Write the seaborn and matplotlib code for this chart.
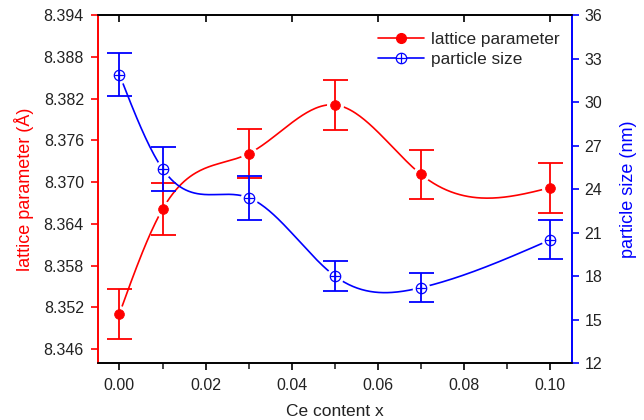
import numpy as np
import pandas as pd
import matplotlib
matplotlib.use("Agg")
import matplotlib.pyplot as plt
from matplotlib.lines import Line2D
from matplotlib.legend_handler import HandlerTuple
import seaborn as sns

# ---- data ----
ce_content = [0.00, 0.01, 0.03, 0.05, 0.07, 0.10]
lattice_param = [8.3511, 8.3661, 8.3741, 8.3811, 8.3711, 8.3692]
lattice_err = [0.0036, 0.0037, 0.0035, 0.0036, 0.0035, 0.0036]
particle_size = [31.9, 25.4, 23.4, 18.0, 17.2, 20.5]
particle_err = [1.5, 1.5, 1.5, 1.05, 1.0, 1.35]

x_ticks = [0.00, 0.02, 0.04, 0.06, 0.08, 0.10]
left_ticks = [8.346, 8.352, 8.358, 8.364, 8.370, 8.376, 8.382, 8.388, 8.394]
right_ticks = [12, 15, 18, 21, 24, 27, 30, 33, 36]

RED = "#ff0000"
BLUE = "#0000ff"


def natural_spline(x, y, n=300):
    x = np.asarray(x, float)
    y = np.asarray(y, float)
    k = len(x)
    h = np.diff(x)
    A = np.zeros((k, k))
    b = np.zeros(k)
    A[0, 0] = 1
    A[-1, -1] = 1
    for i in range(1, k - 1):
        A[i, i - 1] = h[i - 1]
        A[i, i] = 2 * (h[i - 1] + h[i])
        A[i, i + 1] = h[i]
        b[i] = 3 * ((y[i + 1] - y[i]) / h[i] - (y[i] - y[i - 1]) / h[i - 1])
    c = np.linalg.solve(A, b)
    xs = np.linspace(x[0], x[-1], n)
    idx = np.clip(np.searchsorted(x, xs, side="right") - 1, 0, k - 2)
    dx = xs - x[idx]
    bb = (y[idx + 1] - y[idx]) / h[idx] - h[idx] * (2 * c[idx] + c[idx + 1]) / 3
    d = (c[idx + 1] - c[idx]) / (3 * h[idx])
    ys = y[idx] + bb * dx + c[idx] * dx ** 2 + d * dx ** 3
    return xs, ys


sns.set_theme(style="ticks")
plt.rcParams["font.family"] = ["Liberation Sans", "DejaVu Sans"]

fig = plt.figure(figsize=(6.44, 4.2), dpi=100)
ax = fig.add_axes([0.152, 0.1357, 0.736, 0.8283])
ax2 = ax.twinx()

df = pd.DataFrame({"x": ce_content, "lat": lattice_param, "size": particle_size})
sx, sy = natural_spline(ce_content, lattice_param)
px, py = natural_spline(ce_content, particle_size)
smooth_lat = pd.DataFrame({"x": sx, "y": sy})
smooth_size = pd.DataFrame({"x": px, "y": py})

# lattice parameter (left axis)
sns.lineplot(data=smooth_lat, x="x", y="y", ax=ax, color=RED, lw=1.2, zorder=2)
ax.scatter(ce_content, lattice_param, s=150, color="white", zorder=3, linewidths=0)
ax.errorbar(ce_content, lattice_param, yerr=lattice_err, fmt="none", ecolor=RED,
            elinewidth=1.3, capsize=9, capthick=1.3, zorder=4)
sns.scatterplot(data=df, x="x", y="lat", ax=ax, color=RED, s=50, edgecolor=RED,
                linewidth=0.5, zorder=5)

# particle size (right axis)
sns.lineplot(data=smooth_size, x="x", y="y", ax=ax2, color=BLUE, lw=1.2, zorder=2)
ax2.scatter(ce_content, particle_size, s=160, color="white", zorder=3, linewidths=0)
ax2.errorbar(ce_content, particle_size, yerr=particle_err, fmt="none", ecolor=BLUE,
             elinewidth=1.3, capsize=9, capthick=1.3, zorder=4)
ax2.plot(ce_content, particle_size, ls="none", marker="o", ms=7.5, mfc="none",
         mec=BLUE, mew=0.9, zorder=5)
ax2.plot(ce_content, particle_size, ls="none", marker="+", ms=7.5, mec=BLUE,
         mew=0.9, zorder=5)

ax.set_xlim(-0.005, 0.105)
ax.set_ylim(8.344, 8.394)
ax2.set_ylim(12, 36)
ax.set_xticks(x_ticks)
ax.set_xticklabels([f"{v:.2f}" for v in x_ticks])
ax.set_xticks(np.arange(0.01, 0.10, 0.02), minor=True)
ax.set_yticks(left_ticks)
ax.set_yticklabels([f"{v:.3f}" for v in left_ticks])
ax2.set_yticks(right_ticks)
ax2.set_yticklabels([str(v) for v in right_ticks])

ax.set_xlabel("Ce content x", fontsize=12.5, color="#222222", labelpad=8)
ax.set_ylabel("lattice parameter (Å)", fontsize=13, color=RED, labelpad=7)
ax2.set_ylabel("particle size (nm)", fontsize=13, color=BLUE, labelpad=13)

for a in (ax, ax2):
    for s in a.spines.values():
        s.set_visible(True)
        s.set_linewidth(1.2)
        s.set_color("black")
ax.spines["left"].set_color(RED)
ax2.spines["left"].set_color(RED)
ax.spines["right"].set_color(BLUE)
ax2.spines["right"].set_color(BLUE)

ax.tick_params(axis="x", which="major", direction="out", length=5, width=1.2,
               labelsize=11.5, colors="black", labelcolor="#222222",
               top=True, labeltop=False, pad=6)
ax.tick_params(axis="x", which="minor", direction="out", length=4, width=1.2,
               top=False)
ax.tick_params(axis="y", direction="out", length=5, width=1.2, color=RED,
               labelcolor="#222222", labelsize=11.5, pad=5)
ax2.tick_params(axis="y", direction="out", length=5, width=1.2, color=BLUE,
                labelcolor="#222222", labelsize=11.5, pad=4)
# top ticks pointing inward
for t in ax.xaxis.get_major_ticks():
    t.tick2line.set_marker(matplotlib.markers.TICKDOWN)
    t.tick2line.set_markersize(5)

h_lat = Line2D([], [], color=RED, lw=1.2, marker="o", ms=7, mfc=RED, mec=RED)
h_size_o = Line2D([], [], color=BLUE, lw=1.2, marker="o", ms=7.5, mfc="white",
                  mec=BLUE, mew=0.9)
h_size_p = Line2D([], [], ls="none", marker="+", ms=7.5, mec=BLUE, mew=0.9)
ax.legend([h_lat, (h_size_o, h_size_p)], ["lattice parameter", "particle size"],
          handler_map={tuple: HandlerTuple(ndivide=1, pad=0)},
          loc="upper right", bbox_to_anchor=(1.0, 0.985), frameon=False,
          fontsize=12.4, handlelength=2.7, handletextpad=0.4, labelspacing=0.25,
          borderaxespad=0.3)

fig.savefig("out.png", dpi=100)
